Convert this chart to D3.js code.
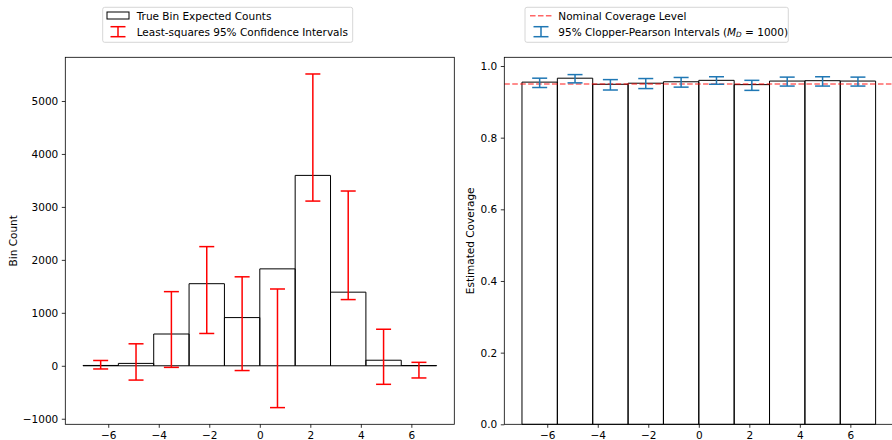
<!DOCTYPE html>
<html>
<head>
<meta charset="utf-8">
<script src="https://cdn.jsdelivr.net/npm/d3@7"></script>
<style>
  body { margin: 0; background: #fff; }
  svg { display: block; font-family: "DejaVu Sans", sans-serif; }
</style>
</head>
<body>
<div id="chart"></div>
<script>
// bin edges and centers
const binEdges = [-7, -5.6, -4.2, -2.8, -1.4, 0, 1.4, 2.8, 4.2, 5.6, 7];
const binCenters = [-6.3, -4.9, -3.5, -2.1, -0.7, 0.7, 2.1, 3.5, 4.9, 6.3];

// left panel: expected counts + least squares intervals
const trueCounts = [6, 45, 600, 1550, 910, 1830, 3595, 1390, 105, 5];
const lsLow  = [-60, -270, -30, 610, -90, -790, 3110, 1250, -350, -230];
const lsHigh = [100, 415, 1400, 2250, 1680, 1450, 5510, 3300, 690, 65];

// right panel: estimated coverage + clopper-pearson intervals
const coverage = [0.955, 0.966, 0.949, 0.952, 0.956, 0.960, 0.948, 0.958, 0.959, 0.958];
const cpLow  = [0.940, 0.953, 0.933, 0.937, 0.941, 0.949, 0.932, 0.944, 0.944, 0.944];
const cpHigh = [0.966, 0.976, 0.962, 0.965, 0.968, 0.970, 0.960, 0.969, 0.970, 0.969];
const nominal = 0.95;

const xTicks = [-6, -4, -2, 0, 2, 4, 6];
const leftYTicks = [-1000, 0, 1000, 2000, 3000, 4000, 5000];
const rightYTicks = [0, 0.2, 0.4, 0.6, 0.8, 1.0];

const W = 892, H = 440;
const plotTop = 57.3, plotBottom = 424.3;
const capHalf = 7.5;
const fs = 10.5;

const svg = d3.select("#chart").append("svg")
  .attr("width", W).attr("height", H);

function drawAxes(g, x, y, yTickVals, yFmt, x0, x1) {
  const xAxis = g.append("g")
    .attr("transform", `translate(0,${plotBottom})`)
    .call(d3.axisBottom(x).tickValues(xTicks).tickSize(3.5).tickPadding(3.5).tickFormat(d3.format("d")));
  const yAxis = g.append("g")
    .attr("transform", `translate(${x0},0)`)
    .call(d3.axisLeft(y).tickValues(yTickVals).tickSize(3.5).tickPadding(3.5).tickFormat(yFmt));
  [xAxis, yAxis].forEach(a => {
    a.select(".domain").remove();
    a.selectAll("line").attr("stroke", "#000").attr("stroke-width", 0.8);
    a.selectAll("text").attr("font-size", fs).attr("fill", "#000")
      .attr("font-family", "DejaVu Sans");
  });
  // spines
  g.append("rect")
    .attr("x", x0).attr("y", plotTop)
    .attr("width", x1 - x0).attr("height", plotBottom - plotTop)
    .attr("fill", "none").attr("stroke", "#000").attr("stroke-width", 0.8);
}

function errorBars(g, x, y, lo, hi, color) {
  const eb = g.append("g").attr("stroke", color).attr("stroke-width", 1.5).attr("fill", "none");
  binCenters.forEach((c, i) => {
    const cx = x(c);
    eb.append("line").attr("x1", cx).attr("x2", cx).attr("y1", y(lo[i])).attr("y2", y(hi[i]));
    eb.append("line").attr("x1", cx - capHalf).attr("x2", cx + capHalf).attr("y1", y(lo[i])).attr("y2", y(lo[i]));
    eb.append("line").attr("x1", cx - capHalf).attr("x2", cx + capHalf).attr("y1", y(hi[i])).attr("y2", y(hi[i]));
  });
}

function barPaths(g, x, y, vals) {
  g.append("g").selectAll("path")
    .data(vals)
    .enter()
    .append("path")
    .attr("d", (d, i) => {
      const xa = x(binEdges[i]), xb = x(binEdges[i + 1]);
      return `M${xa},${y(0)}V${y(d)}H${xb}V${y(0)}Z`;
    })
    .attr("fill", "none")
    .attr("stroke", "#000")
    .attr("stroke-width", 1);
}

// ---------- left panel ----------
const lx0 = 65.3, lx1 = 454.3;
const xL = d3.scaleLinear().domain([-7.7, 7.7]).range([lx0, lx1]);
const yL = d3.scaleLinear().domain([-1105, 5825]).range([plotBottom, plotTop]);
const gL = svg.append("g");
barPaths(gL, xL, yL, trueCounts);
errorBars(gL, xL, yL, lsLow, lsHigh, "#ff0000");
drawAxes(gL, xL, yL, leftYTicks, d3.format("d"), lx0, lx1);

svg.append("text")
  .attr("transform", `translate(17,${(plotTop + plotBottom) / 2}) rotate(-90)`)
  .attr("text-anchor", "middle").attr("font-size", fs)
  .text("Bin Count");

// ---------- right panel ----------
const rx0 = 504.3, rx1 = 893.3;
const xR = d3.scaleLinear().domain([-7.7, 7.7]).range([rx0, rx1]);
const yR = d3.scaleLinear().domain([0, 1.0243]).range([plotBottom, plotTop]);
const gR = svg.append("g");
barPaths(gR, xR, yR, coverage);
gR.append("line")
  .attr("x1", rx0).attr("x2", rx1)
  .attr("y1", yR(nominal)).attr("y2", yR(nominal))
  .attr("stroke", "#ff0000").attr("stroke-opacity", 0.6)
  .attr("stroke-width", 1.5).attr("stroke-dasharray", "5.55,2.4");
errorBars(gR, xR, yR, cpLow, cpHigh, "#1f77b4");
drawAxes(gR, xR, yR, rightYTicks, d3.format(".1f"), rx0, rx1);

svg.append("text")
  .attr("transform", `translate(474,${(plotTop + plotBottom) / 2}) rotate(-90)`)
  .attr("text-anchor", "middle").attr("font-size", fs)
  .text("Estimated Coverage");

// ---------- legends ----------
function legendBox(x, y, w, h) {
  svg.append("rect")
    .attr("x", x).attr("y", y).attr("width", w).attr("height", h)
    .attr("rx", 2).attr("fill", "#fff").attr("fill-opacity", 0.8)
    .attr("stroke", "#cccccc").attr("stroke-width", 0.8);
}
function legendErr(cx, yc, color) {
  const g = svg.append("g").attr("stroke", color).attr("stroke-width", 1.5);
  g.append("line").attr("x1", cx).attr("x2", cx).attr("y1", yc - 5).attr("y2", yc + 5);
  g.append("line").attr("x1", cx - capHalf).attr("x2", cx + capHalf).attr("y1", yc - 5).attr("y2", yc - 5);
  g.append("line").attr("x1", cx - capHalf).attr("x2", cx + capHalf).attr("y1", yc + 5).attr("y2", yc + 5);
}

legendBox(102.7, 7.3, 250, 35);
svg.append("rect").attr("x", 107).attr("y", 12).attr("width", 22).attr("height", 7)
  .attr("fill", "none").attr("stroke", "#000").attr("stroke-width", 1);
svg.append("text").attr("x", 136.7).attr("y", 19.8).attr("font-size", fs).text("True Bin Expected Counts");
legendErr(118, 31.7, "#ff0000");
svg.append("text").attr("x", 136.7).attr("y", 35.8).attr("font-size", fs).text("Least-squares 95% Confidence Intervals");

legendBox(525, 7.3, 263.3, 35);
svg.append("line").attr("x1", 530).attr("x2", 552).attr("y1", 15.7).attr("y2", 15.7)
  .attr("stroke", "#ff0000").attr("stroke-opacity", 0.6)
  .attr("stroke-width", 1.5).attr("stroke-dasharray", "5.55,2.4");
svg.append("text").attr("x", 558.3).attr("y", 19.8).attr("font-size", fs).text("Nominal Coverage Level");
legendErr(541, 31.7, "#1f77b4");
const t = svg.append("text").attr("x", 558.3).attr("y", 35.8).attr("font-size", fs);
t.append("tspan").text("95% Clopper-Pearson Intervals (");
t.append("tspan").attr("font-style", "italic").text("M");
t.append("tspan").attr("font-style", "italic").attr("font-size", 7.3).attr("dy", 1.6).text("D");
t.append("tspan").attr("dy", -1.6).text(" = 1000)");
</script>
</body>
</html>
